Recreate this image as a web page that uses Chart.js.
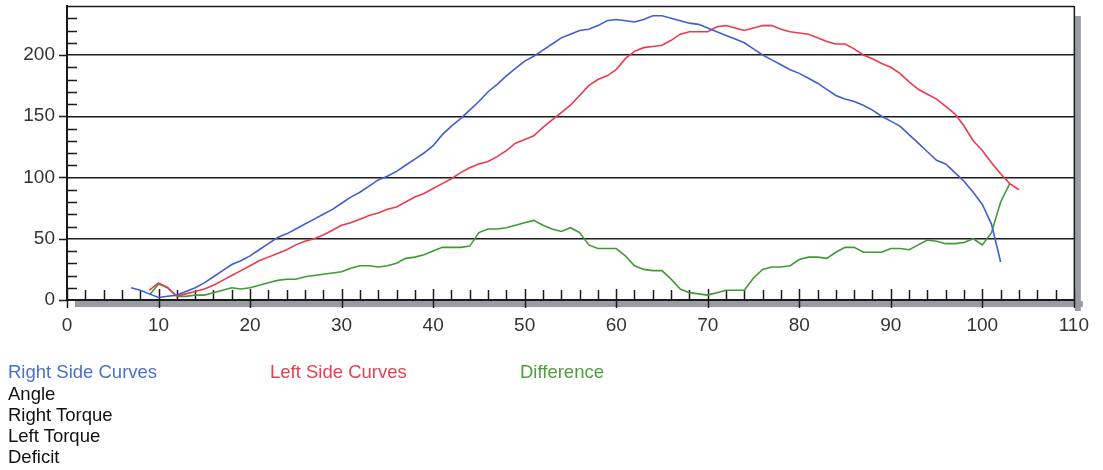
<!DOCTYPE html>
<html>
<head>
<meta charset="utf-8">
<script src="https://cdn.jsdelivr.net/npm/chart.js@4/dist/chart.umd.min.js"></script>
<style>
  html, body { margin: 0; padding: 0; background: #ffffff; }
  #wrap { position: relative; width: 1103px; height: 470px; overflow: hidden; }
  canvas { position: absolute; left: 0; top: 0; }
  .lg { position: absolute; font-family: "Liberation Sans", Arial, sans-serif; font-size: 18.5px; line-height: 21.3px; white-space: nowrap; }
</style>
</head>
<body>
<div id="wrap">
  <canvas id="c" width="1103" height="470"></canvas>
  <div class="lg" style="left:8px; top:361px; color:#4a6fcc;">Right Side Curves</div>
  <div class="lg" style="left:270px; top:361px; color:#e8404f;">Left Side Curves</div>
  <div class="lg" style="left:520px; top:361px; color:#4e9e3e;">Difference</div>
  <div class="lg" style="left:8px; top:382.5px; color:#111;">Angle<br>Right Torque<br>Left Torque<br>Deficit</div>
</div>
<script>
// ---- data ----
const angles = [7,8,9,10,11,12,13,14,15,16,17,18,19,20,21,22,23,24,25,26,27,28,29,30,31,32,33,34,35,36,37,38,39,40,41,42,43,44,45,46,47,48,49,50,51,52,53,54,55,56,57,58,59,60,61,62,63,64,65,66,67,68,69,70,71,72,73,74,75,76,77,78,79,80,81,82,83,84,85,86,87,88,89,90,91,92,93,94,95,96,97,98,99,100,101,102,103,104];

const rightTorque = [10,8,5,2,3,4,7,10,14,19,24,29,32,36,41,46,51,54,58,62,66,70,74,79,84,88,93,98,101,105,110,115,120,126,135,142,148,155,162,170,176,183,189,195,199,204,209,214,217,220,221,224,228,229,228,227,229,232,232,230,228,226,225,222,219,216,213,210,205,200,196,192,188,185,181,177,172,167,164,162,159,155,150,146,142,135,128,121,114,111,104,97,88,78,62,31,null,null];

const leftTorque = [null,null,8,14,10,3,5,7,9,12,16,20,24,28,32,35,38,41,45,48,50,53,57,61,63,66,69,71,74,76,80,84,87,91,95,99,104,108,111,113,117,122,128,131,134,141,147,153,159,167,175,180,183,188,197,203,206,207,208,212,217,219,219,219,223,224,222,220,222,224,224,221,219,218,217,214,211,209,209,205,200,197,193,190,185,178,172,168,164,158,152,142,130,122,112,103,95,90];

const deficit = [null,null,4,13,10,3,3,4,4,6,8,10,9,10,12,14,16,17,17,19,20,21,22,23,26,28,28,27,28,30,34,35,37,40,43,43,43,44,55,58,58,59,61,63,65,61,58,56,59,55,45,42,42,42,36,28,25,24,24,17,9,6,5,4,6,8,8,8,18,25,27,27,28,33,35,35,34,39,43,43,39,39,39,42,42,41,45,49,48,46,46,47,50,45,55,80,95,null];

const xTickValues = [0,10,20,30,40,50,60,70,80,90,100,110];
const yTickValues = [0,50,100,150,200];

function pts(vals) { return angles.map((a, i) => ({ x: a, y: vals[i] })); }

const framePlugin = {
  id: 'frame',
  beforeDatasetsDraw(chart) {
    const ctx = chart.ctx, a = chart.chartArea;
    const xs = chart.scales.x, ys = chart.scales.y;
    ctx.save();
    // shadow bands
    ctx.fillStyle = '#9a9ca3';
    ctx.fillRect(a.left + 8, a.bottom + 1, a.right - a.left + 1, 6);
    ctx.fillRect(a.right + 1, a.top + 10, 6, a.bottom - a.top + 1);
    ctx.strokeStyle = '#1a1a1a';
    ctx.lineWidth = 1.5;
    ctx.beginPath();
    // top and right borders
    ctx.moveTo(a.left, a.top + 0.5); ctx.lineTo(a.right, a.top + 0.5);
    ctx.moveTo(a.right + 0.5, a.top); ctx.lineTo(a.right + 0.5, a.bottom);
    // y minor ticks (every 10)
    for (let v = 10; v < 240; v += 10) {
      if (v % 50 === 0) continue;
      const y = Math.round(ys.getPixelForValue(v)) + 0.5;
      ctx.moveTo(a.left, y); ctx.lineTo(a.left + 10, y);
    }
    // y major ticks (outside)
    for (const v of yTickValues) {
      const y = Math.round(ys.getPixelForValue(v)) + 0.5;
      ctx.moveTo(a.left - 8, y); ctx.lineTo(a.left, y);
    }
    // x minor ticks (every 2)
    for (let v = 2; v < 110; v += 2) {
      if (v % 10 === 0) continue;
      const x = Math.round(xs.getPixelForValue(v)) + 0.5;
      ctx.moveTo(x, a.bottom - 10); ctx.lineTo(x, a.bottom);
    }
    // x major ticks
    for (const v of xTickValues) {
      const x = Math.round(xs.getPixelForValue(v)) + 0.5;
      ctx.moveTo(x, a.bottom - 11); ctx.lineTo(x, a.bottom + 8);
    }
    ctx.stroke();
    ctx.restore();
  }
};

new Chart(document.getElementById('c'), {
  type: 'line',
  data: {
    datasets: [
      { label: 'Right Torque', data: pts(rightTorque), borderColor: '#3f5fd0', borderWidth: 1.6 },
      { label: 'Left Torque', data: pts(leftTorque), borderColor: '#ec3a4c', borderWidth: 1.6 },
      { label: 'Deficit', data: pts(deficit), borderColor: '#3f9a34', borderWidth: 1.6 }
    ]
  },
  options: {
    responsive: false,
    animation: false,
    devicePixelRatio: 1,
    layout: { padding: { left: 0, right: 27, top: 6, bottom: 130 } },
    elements: { point: { radius: 0 }, line: { tension: 0 } },
    plugins: { legend: { display: false }, tooltip: { enabled: false } },
    scales: {
      x: {
        type: 'linear', min: 0, max: 110,
        afterBuildTicks(s) { s.ticks = xTickValues.map(v => ({ value: v })); },
        afterFit(s) { s.height = 40; },
        grid: { display: false, drawTicks: false },
        border: { display: true, color: '#1a1a1a', width: 2 },
        ticks: { padding: 14, color: '#333', font: { family: 'Liberation Sans', size: 19 }, maxRotation: 0, autoSkip: false }
      },
      y: {
        type: 'linear', min: 0, max: 240,
        afterBuildTicks(s) { s.ticks = yTickValues.map(v => ({ value: v })); },
        afterFit(s) { s.width = 67; s.paddingTop = 0; s.paddingBottom = 0; },
        grid: { drawTicks: false, color: '#1a1a1a', lineWidth: 1.5 },
        border: { display: true, color: '#1a1a1a', width: 2 },
        ticks: { padding: 12, color: '#333', font: { family: 'Liberation Sans', size: 19 }, autoSkip: false }
      }
    }
  },
  plugins: [framePlugin]
});
</script>
</body>
</html>
